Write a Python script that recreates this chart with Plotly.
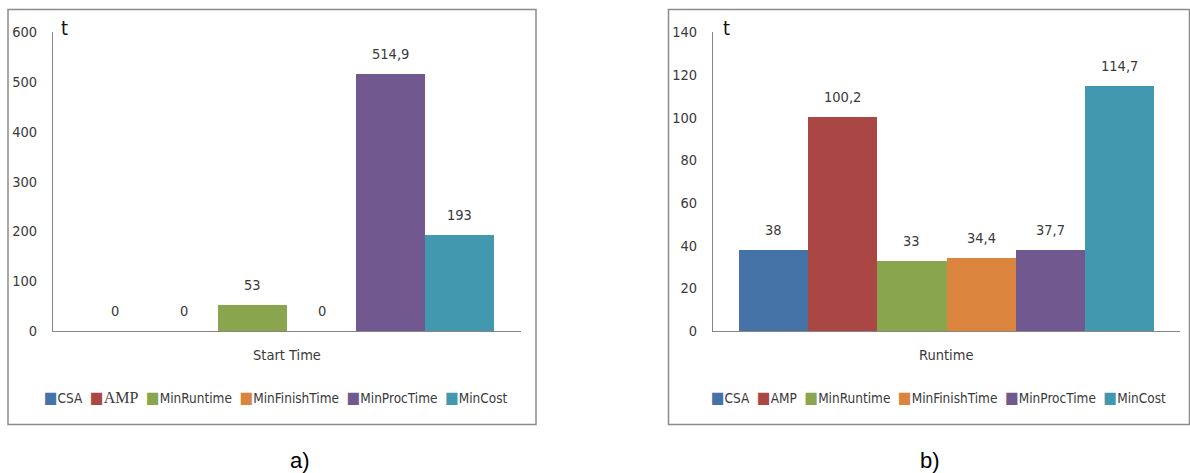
import plotly.graph_objects as go

# ---------------- data ----------------
series = ["CSA", "AMP", "MinRuntime", "MinFinishTime", "MinProcTime", "MinCost"]
start_time = [0, 0, 53, 0, 514.9, 193]
runtime = [38, 100.2, 33, 34.4, 37.7, 114.7]
colors = ["#4572A7", "#AA4643", "#89A54E", "#DB843D", "#71588F", "#4198AF"]
ticks_a = [0, 100, 200, 300, 400, 500, 600]
ticks_b = [0, 20, 40, 60, 80, 100, 120, 140]
panel_titles = ["Start Time", "Runtime"]
panel_tags = ["a)", "b)"]
y_label = "t"

# ---------------- styling ----------------
W, H = 1190, 473
FONT = "Liberation Sans Narrow, Arial Narrow, DejaVu Sans Condensed, sans-serif"
TXT = "#3a3a3a"
AX = "#868686"


def fmt(v):
    return f"{v:g}".replace(".", ",")


def px_x(p):
    return p / W


def px_y(p):
    return (H - p) / H


fig = go.Figure()
panels = [
    dict(vals=start_time, xa="x", ya="y", ticks=ticks_a, xdom=(53, 521), gap=27 / 69,
         box=(8, 536), title_x=287, leg_x=276, tag_x=300, t_x=59, serif_amp=True),
    dict(vals=runtime, xa="x2", ya="y2", ticks=ticks_b, xdom=(713, 1180), gap=26 / 69.2,
         box=(668.5, 1189.5), title_x=946, leg_x=938, tag_x=930, t_x=721, serif_amp=False),
]

annotations = []
shapes = []
for k, p in enumerate(panels):
    for i, name in enumerate(series):
        fig.add_trace(go.Bar(x=[name], y=[p["vals"][i]], marker=dict(color=colors[i], line=dict(width=0)),
                             xaxis=p["xa"], yaxis=p["ya"], showlegend=False, name=name,
                             hoverinfo="skip"))
        annotations.append(dict(x=name, y=p["vals"][i], xref=p["xa"], yref=p["ya"], text=fmt(p["vals"][i]),
                                showarrow=False, yanchor="middle", yshift=20,
                                font=dict(family=FONT, size=14.5, color=TXT)))
    # axis title (category label)
    annotations.append(dict(x=px_x(p["title_x"]), y=px_y(355), xref="paper", yref="paper",
                            text=panel_titles[k], showarrow=False, xanchor="center", yanchor="middle",
                            font=dict(family=FONT, size=14.5, color=TXT)))
    # "t" label
    annotations.append(dict(x=px_x(p["t_x"]), y=px_y(28), xref="paper", yref="paper", text=y_label,
                            showarrow=False, xanchor="left", yanchor="middle",
                            font=dict(family=FONT, size=20, color="#111")))
    # legend (text with coloured squares)
    parts = []
    for i, name in enumerate(series):
        label = name
        if p["serif_amp"] and name == "AMP":
            label = "<span style='font-family:Liberation Serif;font-size:16px'>AMP</span>"
        parts.append(f"<span style='color:{colors[i]};font-size:16px'>■</span>{label}")
    annotations.append(dict(x=px_x(p["leg_x"]), y=px_y(397), xref="paper", yref="paper",
                            text="  ".join(parts), showarrow=False, xanchor="center", yanchor="middle",
                            font=dict(family=FONT, size=13.5, color=TXT)))
    # panel tag
    annotations.append(dict(x=px_x(p["tag_x"]), y=px_y(460), xref="paper", yref="paper", text=panel_tags[k],
                            showarrow=False, xanchor="center", yanchor="middle",
                            font=dict(family="Liberation Sans, Arial, sans-serif", size=22, color="#000")))
    # frame
    shapes.append(dict(type="rect", xref="paper", yref="paper", x0=px_x(p["box"][0]), x1=px_x(p["box"][1]),
                       y0=px_y(424.5), y1=px_y(9.5), line=dict(color="#8c8c8c", width=1.5),
                       fillcolor="rgba(0,0,0,0)", layer="below"))

    g = p["gap"]
    xaxis = dict(domain=[px_x(p["xdom"][0]), px_x(p["xdom"][1])], type="category",
                 categoryorder="array", categoryarray=series, range=[-0.5 - g, 5.5 + g],
                 showticklabels=False, ticks="", showline=True, linecolor=AX, linewidth=1,
                 showgrid=False, zeroline=False, anchor=p["ya"], fixedrange=True)
    yaxis = dict(domain=[px_y(331), px_y(32)], range=[0, p["ticks"][-1]], tickmode="array",
                 tickvals=p["ticks"], ticktext=[str(t) for t in p["ticks"]], ticks="",
                 showline=True, linecolor=AX, linewidth=1, showgrid=False, zeroline=False,
                 anchor=p["xa"], ticklabelstandoff=12, fixedrange=True,
                 tickfont=dict(family=FONT, size=14.5, color=TXT))
    if k == 0:
        fig.update_layout(xaxis=xaxis, yaxis=yaxis)
    else:
        fig.update_layout(xaxis2=xaxis, yaxis2=yaxis)

fig.update_layout(
    width=W, height=H, margin=dict(l=0, r=0, t=0, b=0, autoexpand=False),
    barmode="overlay", bargap=0, paper_bgcolor="white", plot_bgcolor="white",
    showlegend=False, annotations=annotations, shapes=shapes,
    font=dict(family=FONT, color=TXT),
)

fig.write_html("out.html", config={"displayModeBar": False})
